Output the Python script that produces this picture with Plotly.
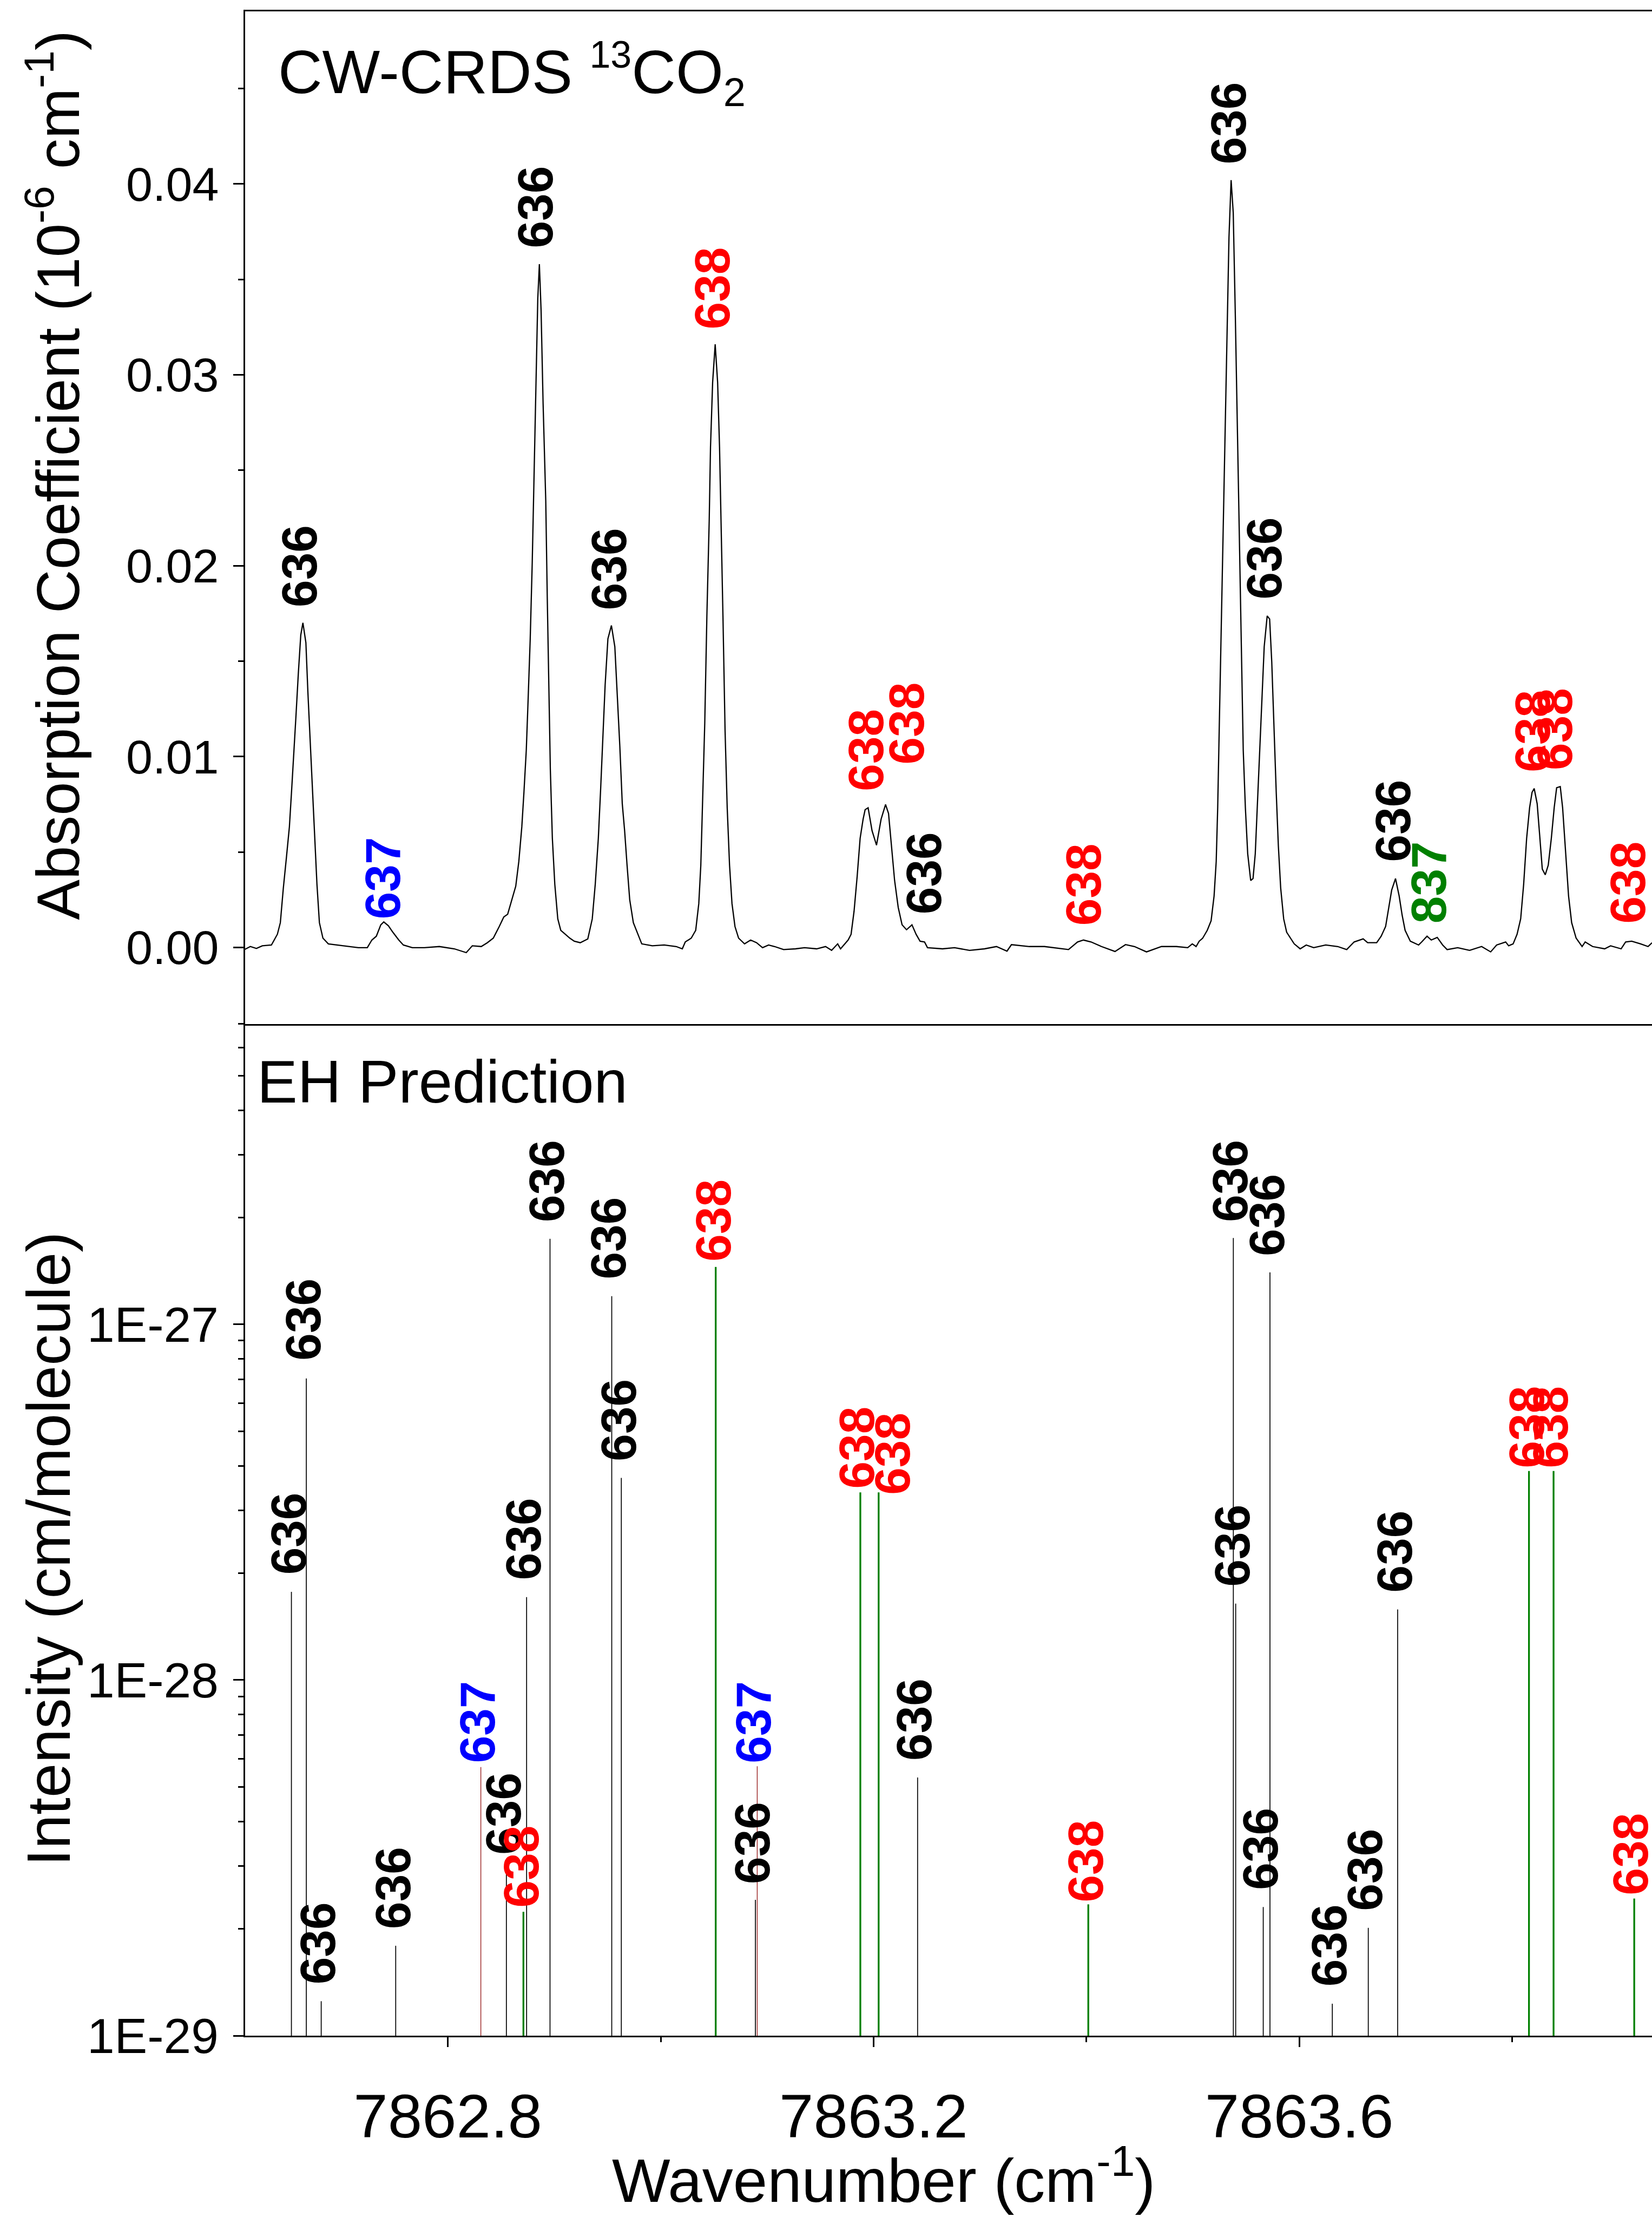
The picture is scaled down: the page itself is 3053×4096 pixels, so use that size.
import math
import plotly.graph_objects as go

# ---------------- data ----------------
# CW-CRDS spectrum (wavenumber in cm-1, absorption coefficient in 1e-6 cm-1)
spec_wn = [
    7862.6088, 7862.6144, 7862.6201, 7862.6257, 7862.6342, 7862.6398, 7862.6426, 7862.6454,
    7862.6483, 7862.6511, 7862.6533, 7862.6553, 7862.6573, 7862.6595, 7862.6618, 7862.6638,
    7862.6666, 7862.6685, 7862.6708, 7862.6731, 7862.6750, 7862.6770, 7862.6793, 7862.6826,
    7862.6877, 7862.6933, 7862.6990, 7862.7074, 7862.7159, 7862.7243, 7862.7286, 7862.7328,
    7862.7370, 7862.7398, 7862.7441, 7862.7483, 7862.7539, 7862.7582, 7862.7666, 7862.7779,
    7862.7920, 7862.8061, 7862.8173, 7862.8230, 7862.8314, 7862.8371, 7862.8427, 7862.8483,
    7862.8526, 7862.8562, 7862.8596, 7862.8638, 7862.8667, 7862.8695, 7862.8715, 7862.8737,
    7862.8754, 7862.8774, 7862.8793, 7862.8808, 7862.8828, 7862.8845, 7862.8860, 7862.8876,
    7862.8895, 7862.8920, 7862.8934, 7862.8949, 7862.8963, 7862.8982, 7862.9005, 7862.9033,
    7862.9061, 7862.9104, 7862.9146, 7862.9188, 7862.9244, 7862.9315, 7862.9357, 7862.9385,
    7862.9414, 7862.9436, 7862.9456, 7862.9478, 7862.9504, 7862.9537, 7862.9569, 7862.9591,
    7862.9616, 7862.9639, 7862.9661, 7862.9684, 7862.9709, 7862.9743, 7862.9794, 7862.9822,
    7862.9921, 7863.0033, 7863.0146, 7863.0203, 7863.0231, 7863.0287, 7863.0329, 7863.0358,
    7863.0377, 7863.0394, 7863.0414, 7863.0434, 7863.0456, 7863.0468, 7863.0488, 7863.0512,
    7863.0535, 7863.0553, 7863.0568, 7863.0585, 7863.0605, 7863.0625, 7863.0647, 7863.0670,
    7863.0698, 7863.0732, 7863.0788, 7863.0845, 7863.0901, 7863.0957, 7863.1014, 7863.1070,
    7863.1155, 7863.1267, 7863.1352, 7863.1465, 7863.1549, 7863.1606, 7863.1663, 7863.1690,
    7863.1761, 7863.1789, 7863.1817, 7863.1846, 7863.1874, 7863.1902, 7863.1921, 7863.1949,
    7863.1986, 7863.2028, 7863.2071, 7863.2113, 7863.2141, 7863.2169, 7863.2198, 7863.2232,
    7863.2268, 7863.2310, 7863.2361, 7863.2400, 7863.2437, 7863.2479, 7863.2507, 7863.2648,
    7863.2761, 7863.2902, 7863.3043, 7863.3155, 7863.3254, 7863.3296, 7863.3465, 7863.3606,
    7863.3832, 7863.3917, 7863.3973, 7863.4044, 7863.4142, 7863.4269, 7863.4368, 7863.4452,
    7863.4565, 7863.4706, 7863.4846, 7863.4952, 7863.4995, 7863.5031, 7863.5060, 7863.5093,
    7863.5136, 7863.5172, 7863.5200, 7863.5220, 7863.5234, 7863.5248, 7863.5262, 7863.5276,
    7863.5290, 7863.5304, 7863.5320, 7863.5340, 7863.5360, 7863.5380, 7863.5400, 7863.5418,
    7863.5437, 7863.5454, 7863.5474, 7863.5494, 7863.5516, 7863.5544, 7863.5566, 7863.5587,
    7863.5606, 7863.5629, 7863.5651, 7863.5671, 7863.5699, 7863.5722, 7863.5742, 7863.5761,
    7863.5784, 7863.5804, 7863.5826, 7863.5854, 7863.5882, 7863.5953, 7863.6009, 7863.6066,
    7863.6136, 7863.6249, 7863.6362, 7863.6446, 7863.6516, 7863.6601, 7863.6643, 7863.6728,
    7863.6770, 7863.6812, 7863.6840, 7863.6869, 7863.6905, 7863.6939, 7863.6967, 7863.6995,
    7863.7044, 7863.7122, 7863.7151, 7863.7201, 7863.7241, 7863.7297, 7863.7348, 7863.7390,
    7863.7489, 7863.7601, 7863.7714, 7863.7799, 7863.7855, 7863.7940, 7863.7968, 7863.8010,
    7863.8047, 7863.8081, 7863.8109, 7863.8137, 7863.8165, 7863.8188, 7863.8208, 7863.8236,
    7863.8259, 7863.8284, 7863.8312, 7863.8340, 7863.8369, 7863.8396, 7863.8419, 7863.8453,
    7863.8475, 7863.8503, 7863.8531, 7863.8560, 7863.8602, 7863.8658, 7863.8687, 7863.8757,
    7863.8870, 7863.8926, 7863.9025, 7863.9067, 7863.9124, 7863.9208, 7863.9278, 7863.9315,
]
spec_abs = [
    -0.00011, 0.00005, -0.00005, 0.00009, 0.00013, 0.00069, 0.00130, 0.00311,
    0.00471, 0.00632, 0.00833, 0.01014, 0.01215, 0.01436, 0.01637, 0.01701,
    0.01597, 0.01335, 0.01054, 0.00813, 0.00572, 0.00331, 0.00130, 0.00049,
    0.00019, 0.00015, 0.00013, 0.00005, -0.00001, -0.00001, 0.00039, 0.00059,
    0.00119, 0.00134, 0.00114, 0.00080, 0.00039, 0.00013, -0.00001, -0.00001,
    0.00005, -0.00007, -0.00027, 0.00009, 0.00005, 0.00025, 0.00049, 0.00110,
    0.00160, 0.00174, 0.00240, 0.00321, 0.00451, 0.00632, 0.00813, 0.01034,
    0.01295, 0.01617, 0.02019, 0.02441, 0.03000, 0.03400, 0.03580, 0.03340,
    0.02850, 0.02340, 0.01838, 0.01335, 0.00934, 0.00572, 0.00331, 0.00150,
    0.00090, 0.00069, 0.00049, 0.00033, 0.00025, 0.00045, 0.00150, 0.00331,
    0.00572, 0.00833, 0.01094, 0.01376, 0.01617, 0.01687, 0.01576, 0.01335,
    0.01054, 0.00753, 0.00612, 0.00431, 0.00250, 0.00130, 0.00059, 0.00019,
    0.00009, 0.00013, 0.00005, -0.00007, 0.00029, 0.00049, 0.00090, 0.00230,
    0.00431, 0.00773, 0.01175, 0.01737, 0.02240, 0.02620, 0.02960, 0.03160,
    0.02960, 0.02620, 0.02240, 0.01737, 0.01134, 0.00732, 0.00431, 0.00230,
    0.00110, 0.00049, 0.00019, 0.00039, 0.00025, -0.00001, 0.00013, 0.00005,
    -0.00011, -0.00007, -0.00001, -0.00007, 0.00005, -0.00015, 0.00019, -0.00007,
    0.00039, 0.00069, 0.00190, 0.00371, 0.00572, 0.00672, 0.00722, 0.00732,
    0.00612, 0.00536, 0.00672, 0.00749, 0.00702, 0.00532, 0.00351, 0.00210,
    0.00119, 0.00093, 0.00119, 0.00069, 0.00033, 0.00029, -0.00001, -0.00007,
    -0.00001, -0.00015, -0.00007, 0.00005, -0.00019, 0.00015, 0.00005, 0.00005,
    -0.00011, 0.00029, 0.00039, 0.00029, 0.00005, -0.00021, 0.00015, 0.00005,
    -0.00023, 0.00005, 0.00005, -0.00001, 0.00019, 0.00005, 0.00033, 0.00049,
    0.00090, 0.00140, 0.00270, 0.00451, 0.00733, 0.01134, 0.01536, 0.01938,
    0.02340, 0.02742, 0.03220, 0.03720, 0.04020, 0.03850, 0.03300, 0.02742,
    0.02139, 0.01536, 0.01034, 0.00733, 0.00491, 0.00351, 0.00361, 0.00491,
    0.00733, 0.01034, 0.01335, 0.01576, 0.01737, 0.01721, 0.01496, 0.01175,
    0.00813, 0.00532, 0.00311, 0.00150, 0.00080, 0.00019, -0.00007, 0.00013,
    -0.00001, 0.00013, 0.00005, -0.00011, 0.00029, 0.00045, 0.00025, 0.00025,
    0.00059, 0.00110, 0.00210, 0.00301, 0.00361, 0.00270, 0.00170, 0.00090,
    0.00033, 0.00013, 0.00029, 0.00059, 0.00039, 0.00053, 0.00013, -0.00011,
    -0.00001, -0.00015, 0.00005, -0.00023, 0.00013, 0.00029, 0.00009, 0.00019,
    0.00069, 0.00150, 0.00331, 0.00572, 0.00733, 0.00813, 0.00833, 0.00753,
    0.00592, 0.00411, 0.00381, 0.00431, 0.00572, 0.00733, 0.00837, 0.00843,
    0.00733, 0.00491, 0.00270, 0.00130, 0.00049, 0.00005, 0.00029, 0.00005,
    -0.00007, 0.00009, -0.00007, 0.00029, 0.00033, 0.00019, 0.00005, 0.00025,
]

# Isotopologue assignments of the observed lines (top panel)
obs_wn = [7862.6638, 7862.7398, 7862.8860, 7862.9537, 7863.0512, 7863.1949, 7863.2113, 7863.2361,
          7863.3973, 7863.5360, 7863.5699, 7863.6905, 7863.7201, 7863.8208, 7863.8453, 7863.9124]
obs_abs = [0.01701, 0.00134, 0.03580, 0.01687, 0.03160, 0.00732, 0.00749, 0.00119,
           0.00039, 0.04020, 0.01737, 0.00361, 0.00059, 0.00833, 0.00843, 0.00033]
obs_iso = ["636", "637", "636", "636", "638", "638", "638", "636",
           "638", "636", "636", "636", "837", "638", "638", "638"]

# EH predicted line list (bottom panel)
pred_wn = [7862.653, 7862.667, 7862.681, 7862.751, 7862.831, 7862.855, 7862.871, 7862.874,
           7862.896, 7862.954, 7862.963, 7863.0517, 7863.089, 7863.0907, 7863.1876, 7863.2048,
           7863.2414, 7863.4018, 7863.5381, 7863.5403, 7863.5662, 7863.5725, 7863.6311, 7863.6649,
           7863.6925, 7863.8159, 7863.839, 7863.9148]
pred_int = [1.77e-28, 7.05e-28, 1.25e-29, 1.79e-29, 5.69e-29, 2.89e-29, 2.23e-29, 1.71e-28,
            1.74e-27, 1.20e-27, 3.70e-28, 1.45e-27, 2.41e-29, 5.72e-29, 3.37e-28, 3.37e-28,
            5.32e-29, 2.34e-29, 1.75e-27, 1.64e-28, 2.30e-29, 1.40e-27, 1.23e-29, 2.01e-29,
            1.58e-28, 3.87e-28, 3.87e-28, 2.43e-29]
pred_iso = ["636", "636", "636", "636", "637", "636", "638", "636",
            "636", "636", "636", "638", "636", "637", "638", "638",
            "636", "638", "636", "636", "636", "636", "636", "636",
            "636", "638", "638", "638"]

x_ticks = [7862.8, 7863.2, 7863.6]
x_minor = [7862.6, 7863.0, 7863.4, 7863.8]
top_ticks = [0.00, 0.01, 0.02, 0.03, 0.04]
bot_ticks = [1e-29, 1e-28, 1e-27]
bot_ticktext = ["1E-29", "1E-28", "1E-27"]

# ---------------- styling / layout ----------------
S = 3053 / 4286.0           # reference -> window scale
W, H = 3053, 4096
ML, MR, MT, MB = 453, 0, 21, 335
PW, PH = W - ML - MR, H - MT - MB
SPLIT = (3761 - 1891.6) / PH
FONT = "Liberation Sans, Arial, sans-serif"

label_color = {"636": "black", "637": "#0000FF", "638": "#FF0000", "837": "#008000"}
stick_color = {"636": "black", "637": "#8B0000", "638": "#008000"}
stick_width = {"636": 1.7, "637": 1.2, "638": 3.3}

# label offsets (reference px): dx, dy
obs_dx = [-9, -2, -10, -7, -8, -5, 54, 31, 0, -6, -8, -6, 5, -4, -13, -10]
obs_dy = [38, 4, 38, 37, 36, 40, 101, 25, 35, 38, 40, 40, 30, 40, 40, 43]
pred_dx = [-7, -8, -9, -7, -9, -7, -6, -8, -8, -8, -7, -7, -7, -9, -9, 37, -8, -7,
           -8, -8, -7, -8, -8, -8, -8, -6, -8, -10]
pred_dy = [41, 44, 41, 41, 8, 41, 8, 41, 40, 41, 41, 11, 38, 5, 6, -9, 41, 3,
           38, 41, 41, 40, 41, 41, 41, 5, 5, 6]

X_RANGE = [7862.6095, 7863.9315]
Y2_RANGE = [-0.0040, 0.04904]
Y_RANGE_LOG = [-29, math.log10(7.0e-27)]


def paper(px, py):
    return (px - ML) / PW, (H - MB - py) / PH


fig = go.Figure()

fig.add_trace(go.Scatter(x=spec_wn, y=spec_abs, mode="lines", xaxis="x2", yaxis="y2",
                         line=dict(color="black", width=2.3), showlegend=False,
                         hoverinfo="skip"))

for iso in ["636", "637", "638"]:
    xs, ys = [], []
    for w, i, s in zip(pred_wn, pred_int, pred_iso):
        if s == iso:
            xs += [w, w, None]
            ys += [1e-29, i, None]
    fig.add_trace(go.Scatter(x=xs, y=ys, mode="lines", xaxis="x", yaxis="y",
                             line=dict(color=stick_color[iso], width=stick_width[iso]),
                             showlegend=False, hoverinfo="skip"))

ann = []
LBL = 91
for w, a, s, dx, dy in zip(obs_wn, obs_abs, obs_iso, obs_dx, obs_dy):
    ann.append(dict(x=w, y=a, xref="x2", yref="y2", text=s, showarrow=False,
                    textangle=-90, xanchor="center", yanchor="bottom",
                    xshift=dx * S, yshift=dy * S,
                    font=dict(family=FONT, size=LBL, color=label_color[s], weight="bold")))
for w, i, s, dx, dy in zip(pred_wn, pred_int, pred_iso, pred_dx, pred_dy):
    ann.append(dict(x=w, y=math.log10(i), xref="x", yref="y", text=s, showarrow=False,
                    textangle=-90, xanchor="center", yanchor="bottom",
                    xshift=dx * S, yshift=dy * S,
                    font=dict(family=FONT, size=LBL, color=label_color[s], weight="bold")))

# panel texts
px_, py_ = paper(512, 137)
ann.append(dict(x=px_, y=py_, xref="paper", yref="paper", showarrow=False,
                text="CW-CRDS <sup><span style='font-size:70px'>13</span></sup>CO"
                     "<sub><span style='font-size:74px'>2</span></sub>",
                xanchor="left", yanchor="middle",
                font=dict(family=FONT, size=113, color="black")))
px_, py_ = paper(473, 1999)
ann.append(dict(x=px_, y=py_, xref="paper", yref="paper", showarrow=False,
                text="EH Prediction", xanchor="left", yanchor="middle",
                font=dict(family=FONT, size=112, color="black")))
# axis titles
px_, py_ = paper(98.7, 878)
ann.append(dict(x=px_, y=py_, xref="paper", yref="paper", showarrow=False, textangle=-90,
                text="Absorption Coefficient (10<sup>-6</sup> cm<sup>-1</sup>)",
                xanchor="center", yanchor="middle",
                font=dict(family=FONT, size=112, color="black")))
px_, py_ = paper(88.7, 2862)
ann.append(dict(x=px_, y=py_, xref="paper", yref="paper", showarrow=False, textangle=-90,
                text="Intensity (cm/molecule)", xanchor="center", yanchor="middle",
                font=dict(family=FONT, size=114, color="black")))
px_, py_ = paper(1633, 4020)
ann.append(dict(x=px_, y=py_, xref="paper", yref="paper", showarrow=False,
                text="Wavenumber (cm<sup>-1</sup>)", xanchor="center", yanchor="middle",
                font=dict(family=FONT, size=114, color="black")))

bot_minor = []
for e in range(-29, -26):
    for k in range(2, 10):
        v = k * 10.0 ** e
        if math.log10(v) <= Y_RANGE_LOG[1] + 1e-9:
            bot_minor.append(v)
top_minor = [0.005, 0.015, 0.025, 0.035, 0.045]

axis_common = dict(showgrid=False, zeroline=False, linecolor="black", linewidth=3,
                   tickcolor="black", tickwidth=2.5)

fig.update_layout(
    width=W, height=H, autosize=False,
    margin=dict(l=ML, r=MR, t=MT, b=MB, pad=0),
    paper_bgcolor="white", plot_bgcolor="white",
    font=dict(family=FONT, color="black"),
    showlegend=False,
    annotations=ann,
    xaxis=dict(domain=[0, 1], anchor="y", range=X_RANGE, showline=True,
               ticks="outside", ticklen=18, tickvals=x_ticks,
               ticktext=[f"{v:.1f}" for v in x_ticks], ticklabelstandoff=30,
               tickfont=dict(family=FONT, size=114, color="black"),
               minor=dict(tickvals=x_minor, ticks="outside", ticklen=9, tickwidth=2.5,
                          tickcolor="black", showgrid=False),
               **axis_common),
    xaxis2=dict(domain=[0, 1], anchor="y2", range=X_RANGE, matches="x", showline=True,
                mirror=True, ticks="", showticklabels=False, **axis_common),
    yaxis=dict(domain=[0, SPLIT], anchor="x", type="log", range=Y_RANGE_LOG, showline=True,
               ticks="outside", ticklen=19, tickvals=bot_ticks, ticktext=bot_ticktext,
               ticklabelstandoff=9,
               tickfont=dict(family=FONT, size=91, color="black"),
               minor=dict(tickvals=bot_minor, ticks="outside", ticklen=10, tickwidth=2.5,
                          tickcolor="black", showgrid=False),
               **axis_common),
    yaxis2=dict(domain=[SPLIT, 1], anchor="x2", range=Y2_RANGE, showline=True,
                ticks="outside", ticklen=19, tickvals=top_ticks,
                ticktext=[f"{v:.2f}" for v in top_ticks], ticklabelstandoff=9,
                tickfont=dict(family=FONT, size=88, color="black"),
                minor=dict(tickvals=top_minor, ticks="outside", ticklen=10, tickwidth=2.5,
                           tickcolor="black", showgrid=False),
                **axis_common),
)

fig.write_html("out.html", include_plotlyjs=True, config={"displayModeBar": False},
               post_script="document.body.style.margin='0';document.body.style.overflow='hidden';")
